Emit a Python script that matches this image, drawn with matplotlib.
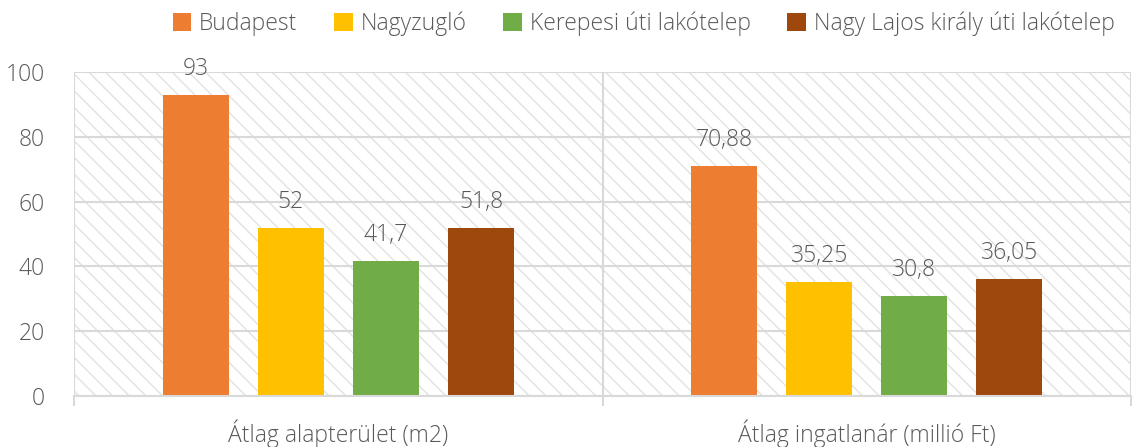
import matplotlib
matplotlib.use("Agg")
import matplotlib.pyplot as plt
from matplotlib.patches import Patch, Rectangle
import numpy as np

categories = ["Átlag alapterület (m2)", "Átlag ingatlanár (millió Ft)"]
series_names = ["Budapest", "Nagyzugló", "Kerepesi úti lakótelep", "Nagy Lajos király úti lakótelep"]
budapest = [93, 70.88]
nagyzuglo = [52, 35.25]
kerepesi = [41.7, 30.8]
nagylajos = [51.8, 36.05]
series_values = [budapest, nagyzuglo, kerepesi, nagylajos]
colors = ["#ED7D31", "#FFC000", "#70AD47", "#9E480E"]
yticks = [0, 20, 40, 60, 80, 100]

def fmt(v):
    s = f"{v:.2f}".rstrip("0").rstrip(".")
    return s.replace(".", ",")

plt.rcParams['font.family'] = ['Open Sans', 'DejaVu Sans']
plt.rcParams['hatch.color'] = '#e2e2e2'
plt.rcParams['hatch.linewidth'] = 1.0
txt = '#595959'
grid = '#d9d9d9'
FW = 'light'
FS = 16.5

fig = plt.figure(figsize=(11.36, 4.47), dpi=100)
ax = fig.add_axes([74/1136, 1-396/447, (1131-74)/1136, (396-72)/447])

ax.add_patch(Rectangle((0, 0), 1, 1, transform=ax.transAxes, facecolor='white',
                       edgecolor='#e2e2e2', linewidth=0, hatch='\\\\', zorder=0.2))

x = np.arange(len(categories))
width = 0.125
offsets = [-0.27, -0.09, 0.09, 0.27]
for vals, off, c in zip(series_values, offsets, colors):
    bars = ax.bar(x + off, vals, width, color=c, zorder=2)
    for b, v in zip(bars, vals):
        ax.annotate(fmt(v), (b.get_x() + b.get_width()/2, v), xytext=(0, 10),
                    textcoords='offset points', ha='center', va='bottom',
                    fontsize=FS, color=txt, fontweight=FW)

ax.set_xlim(-0.5, 1.5)
ax.set_ylim(0, 100)
ax.set_yticks(yticks)
ax.set_axisbelow(True)
ax.yaxis.grid(True, color=grid, linewidth=1.5)
ax.set_xticks(x)
ax.set_xticklabels(categories)
ax.set_xticks([-0.5, 0.5, 1.5], minor=True)
ax.xaxis.grid(True, which='minor', color=grid, linewidth=1.5)
ax.tick_params(axis='x', which='major', length=0, pad=17, labelsize=FS, labelcolor=txt)
ax.tick_params(axis='x', which='minor', length=7, color=grid, width=1.5)
ax.tick_params(axis='y', length=0, pad=21, labelsize=FS, labelcolor=txt)
for lab in ax.get_xticklabels() + ax.get_yticklabels():
    lab.set_fontweight(FW)
for s in ['top', 'left', 'right']:
    ax.spines[s].set_visible(False)
ax.spines['bottom'].set_color(grid)
ax.spines['bottom'].set_linewidth(1.5)

handles = [Patch(facecolor=c, edgecolor='none') for c in colors]
leg = fig.legend(handles, series_names, loc='upper right', bbox_to_anchor=(1126/1136, 1.0),
                 ncol=4, frameon=False, fontsize=FS, handlelength=0.8, handleheight=0.8,
                 handletextpad=0.35, columnspacing=1.6, borderaxespad=0.1)
for t in leg.get_texts():
    t.set_color(txt)
    t.set_fontweight(FW)

fig.savefig('out.png', dpi=100)
